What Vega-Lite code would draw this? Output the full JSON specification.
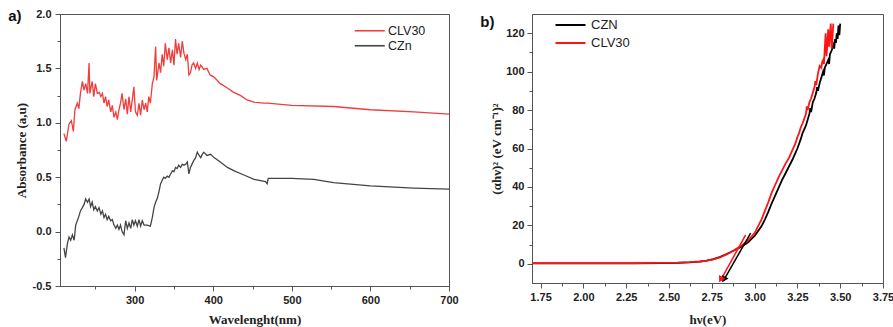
{
 "$schema": "https://vega.github.io/schema/vega-lite/v6.json",
 "padding": {"left": 7, "top": 7, "right": 4, "bottom": 0},
 "config": {
  "view": {"stroke": "#555", "strokeWidth": 1},
  "axis": {"domainColor": "#555", "tickColor": "#555", "grid": false, "labelFont": "Liberation Sans", "labelFontWeight": "bold", "labelFontSize": 11, "labelColor": "#222", "titleFont": "Liberation Serif", "titleFontWeight": "bold", "titleFontSize": 13, "titleColor": "#222", "labelFlush": false, "labelOverlap": false},
  "title": {"font": "Liberation Sans", "fontSize": 15, "fontWeight": "bold", "color": "#111"}
 },
 "datasets": {
  "uv": [
   {"s":"CLV30","wl":210,"A":0.90},{"s":"CLV30","wl":213,"A":0.83},{"s":"CLV30","wl":216.5,"A":0.99},{"s":"CLV30","wl":219.5,"A":1.02},{"s":"CLV30","wl":222,"A":0.92},{"s":"CLV30","wl":224,"A":1.12},{"s":"CLV30","wl":227,"A":1.18},{"s":"CLV30","wl":229,"A":1.13},{"s":"CLV30","wl":231,"A":1.27},{"s":"CLV30","wl":233.5,"A":1.38},{"s":"CLV30","wl":235.6,"A":1.30},{"s":"CLV30","wl":237.7,"A":1.36},{"s":"CLV30","wl":240,"A":1.27},{"s":"CLV30","wl":242,"A":1.55},{"s":"CLV30","wl":243,"A":1.27},{"s":"CLV30","wl":246,"A":1.38},{"s":"CLV30","wl":248,"A":1.24},{"s":"CLV30","wl":250,"A":1.36},{"s":"CLV30","wl":252.5,"A":1.27},{"s":"CLV30","wl":255,"A":1.28},{"s":"CLV30","wl":257,"A":1.24},{"s":"CLV30","wl":259,"A":1.27},{"s":"CLV30","wl":261,"A":1.18},{"s":"CLV30","wl":263,"A":1.24},{"s":"CLV30","wl":265,"A":1.15},{"s":"CLV30","wl":267,"A":1.21},{"s":"CLV30","wl":269.5,"A":1.10},{"s":"CLV30","wl":271.6,"A":1.16},{"s":"CLV30","wl":273.7,"A":1.05},{"s":"CLV30","wl":276,"A":1.10},{"s":"CLV30","wl":278,"A":1.03},{"s":"CLV30","wl":280,"A":1.12},{"s":"CLV30","wl":282,"A":1.18},{"s":"CLV30","wl":284,"A":1.27},{"s":"CLV30","wl":286.4,"A":1.12},{"s":"CLV30","wl":288.6,"A":1.22},{"s":"CLV30","wl":290.7,"A":1.08},{"s":"CLV30","wl":292.8,"A":1.24},{"s":"CLV30","wl":295,"A":1.10},{"s":"CLV30","wl":297,"A":1.21},{"s":"CLV30","wl":299,"A":1.33},{"s":"CLV30","wl":301,"A":1.10},{"s":"CLV30","wl":303.4,"A":1.07},{"s":"CLV30","wl":305.5,"A":1.18},{"s":"CLV30","wl":307.6,"A":1.07},{"s":"CLV30","wl":309.7,"A":1.21},{"s":"CLV30","wl":312,"A":1.12},{"s":"CLV30","wl":314,"A":1.18},{"s":"CLV30","wl":316,"A":1.10},{"s":"CLV30","wl":318,"A":1.24},{"s":"CLV30","wl":320,"A":1.18},{"s":"CLV30","wl":322.5,"A":1.36},{"s":"CLV30","wl":324.6,"A":1.42},{"s":"CLV30","wl":326.7,"A":1.70},{"s":"CLV30","wl":328,"A":1.39},{"s":"CLV30","wl":331,"A":1.55},{"s":"CLV30","wl":333,"A":1.46},{"s":"CLV30","wl":335,"A":1.63},{"s":"CLV30","wl":337,"A":1.52},{"s":"CLV30","wl":339,"A":1.73},{"s":"CLV30","wl":341.5,"A":1.58},{"s":"CLV30","wl":343.6,"A":1.69},{"s":"CLV30","wl":345.8,"A":1.55},{"s":"CLV30","wl":348,"A":1.67},{"s":"CLV30","wl":350,"A":1.53},{"s":"CLV30","wl":352,"A":1.77},{"s":"CLV30","wl":354,"A":1.63},{"s":"CLV30","wl":356,"A":1.73},{"s":"CLV30","wl":358.5,"A":1.60},{"s":"CLV30","wl":360.6,"A":1.75},{"s":"CLV30","wl":362.7,"A":1.64},{"s":"CLV30","wl":365,"A":1.58},{"s":"CLV30","wl":367,"A":1.63},{"s":"CLV30","wl":369,"A":1.44},{"s":"CLV30","wl":371,"A":1.46},{"s":"CLV30","wl":373,"A":1.53},{"s":"CLV30","wl":375,"A":1.55},{"s":"CLV30","wl":377.5,"A":1.50},{"s":"CLV30","wl":379.7,"A":1.55},{"s":"CLV30","wl":382,"A":1.49},{"s":"CLV30","wl":384,"A":1.53},{"s":"CLV30","wl":388,"A":1.49},{"s":"CLV30","wl":392,"A":1.50},{"s":"CLV30","wl":396,"A":1.44},{"s":"CLV30","wl":401,"A":1.42},{"s":"CLV30","wl":409,"A":1.36},{"s":"CLV30","wl":418,"A":1.32},{"s":"CLV30","wl":426,"A":1.28},{"s":"CLV30","wl":435,"A":1.25},{"s":"CLV30","wl":443,"A":1.21},{"s":"CLV30","wl":452,"A":1.19},{"s":"CLV30","wl":464,"A":1.18},{"s":"CLV30","wl":469,"A":1.18},{"s":"CLV30","wl":500,"A":1.16},{"s":"CLV30","wl":553,"A":1.15},{"s":"CLV30","wl":600,"A":1.12},{"s":"CLV30","wl":655,"A":1.10},{"s":"CLV30","wl":700,"A":1.08},
   {"s":"CZn","wl":210,"A":-0.15},{"s":"CZn","wl":212,"A":-0.24},{"s":"CZn","wl":214.4,"A":-0.11},{"s":"CZn","wl":216.5,"A":-0.05},{"s":"CZn","wl":218.6,"A":-0.08},{"s":"CZn","wl":220.8,"A":-0.03},{"s":"CZn","wl":223,"A":-0.08},{"s":"CZn","wl":225,"A":0.06},{"s":"CZn","wl":227,"A":0.10},{"s":"CZn","wl":229,"A":0.14},{"s":"CZn","wl":231,"A":0.19},{"s":"CZn","wl":233.5,"A":0.22},{"s":"CZn","wl":235.6,"A":0.25},{"s":"CZn","wl":237.7,"A":0.30},{"s":"CZn","wl":240,"A":0.27},{"s":"CZn","wl":242,"A":0.30},{"s":"CZn","wl":244,"A":0.23},{"s":"CZn","wl":246,"A":0.27},{"s":"CZn","wl":248,"A":0.20},{"s":"CZn","wl":250,"A":0.23},{"s":"CZn","wl":252.5,"A":0.19},{"s":"CZn","wl":254.7,"A":0.22},{"s":"CZn","wl":257,"A":0.16},{"s":"CZn","wl":259,"A":0.19},{"s":"CZn","wl":261,"A":0.13},{"s":"CZn","wl":263,"A":0.16},{"s":"CZn","wl":265,"A":0.11},{"s":"CZn","wl":267,"A":0.14},{"s":"CZn","wl":269.5,"A":0.10},{"s":"CZn","wl":271.6,"A":0.11},{"s":"CZn","wl":273.7,"A":0.06},{"s":"CZn","wl":276,"A":0.03},{"s":"CZn","wl":278,"A":0.06},{"s":"CZn","wl":280,"A":0.02},{"s":"CZn","wl":282,"A":0.06},{"s":"CZn","wl":284,"A":0.0},{"s":"CZn","wl":286.4,"A":-0.03},{"s":"CZn","wl":288.6,"A":0.10},{"s":"CZn","wl":290.7,"A":0.03},{"s":"CZn","wl":292.8,"A":0.08},{"s":"CZn","wl":295,"A":0.03},{"s":"CZn","wl":297,"A":0.11},{"s":"CZn","wl":299,"A":0.06},{"s":"CZn","wl":301,"A":0.10},{"s":"CZn","wl":303.4,"A":0.05},{"s":"CZn","wl":305.5,"A":0.11},{"s":"CZn","wl":307.6,"A":0.05},{"s":"CZn","wl":309.7,"A":0.10},{"s":"CZn","wl":312,"A":0.06},{"s":"CZn","wl":316,"A":0.06},{"s":"CZn","wl":320,"A":0.05},{"s":"CZn","wl":322.5,"A":0.13},{"s":"CZn","wl":324.6,"A":0.22},{"s":"CZn","wl":326.7,"A":0.27},{"s":"CZn","wl":329,"A":0.31},{"s":"CZn","wl":331,"A":0.37},{"s":"CZn","wl":333,"A":0.44},{"s":"CZn","wl":335,"A":0.47},{"s":"CZn","wl":337,"A":0.50},{"s":"CZn","wl":339,"A":0.49},{"s":"CZn","wl":341.5,"A":0.51},{"s":"CZn","wl":343.6,"A":0.50},{"s":"CZn","wl":345.8,"A":0.53},{"s":"CZn","wl":348,"A":0.56},{"s":"CZn","wl":350,"A":0.55},{"s":"CZn","wl":352,"A":0.59},{"s":"CZn","wl":354,"A":0.58},{"s":"CZn","wl":356,"A":0.61},{"s":"CZn","wl":358.5,"A":0.59},{"s":"CZn","wl":360.6,"A":0.62},{"s":"CZn","wl":362.7,"A":0.61},{"s":"CZn","wl":365,"A":0.62},{"s":"CZn","wl":367,"A":0.64},{"s":"CZn","wl":369,"A":0.53},{"s":"CZn","wl":371,"A":0.59},{"s":"CZn","wl":373,"A":0.62},{"s":"CZn","wl":375,"A":0.65},{"s":"CZn","wl":377.5,"A":0.68},{"s":"CZn","wl":379.7,"A":0.73},{"s":"CZn","wl":382,"A":0.70},{"s":"CZn","wl":384,"A":0.68},{"s":"CZn","wl":386,"A":0.71},{"s":"CZn","wl":388,"A":0.73},{"s":"CZn","wl":390.5,"A":0.71},{"s":"CZn","wl":392,"A":0.70},{"s":"CZn","wl":396.6,"A":0.71},{"s":"CZn","wl":401,"A":0.68},{"s":"CZn","wl":409,"A":0.64},{"s":"CZn","wl":418,"A":0.59},{"s":"CZn","wl":426,"A":0.56},{"s":"CZn","wl":439,"A":0.52},{"s":"CZn","wl":452,"A":0.48},{"s":"CZn","wl":466.5,"A":0.46},{"s":"CZn","wl":468.6,"A":0.44},{"s":"CZn","wl":470,"A":0.49},{"s":"CZn","wl":500,"A":0.49},{"s":"CZn","wl":528,"A":0.48},{"s":"CZn","wl":553,"A":0.45},{"s":"CZn","wl":600,"A":0.42},{"s":"CZn","wl":655,"A":0.40},{"s":"CZn","wl":700,"A":0.39}
  ],
  "tauc": [
   {"s":"CZN","hv":1.70,"v":0.2},{"s":"CZN","hv":1.9,"v":0.2},{"s":"CZN","hv":2.1,"v":0.2},{"s":"CZN","hv":2.3,"v":0.25},{"s":"CZN","hv":2.45,"v":0.35},{"s":"CZN","hv":2.55,"v":0.5},{"s":"CZN","hv":2.62,"v":0.75},{"s":"CZN","hv":2.68,"v":1.15},{"s":"CZN","hv":2.72,"v":1.6},{"s":"CZN","hv":2.76,"v":2.4},{"s":"CZN","hv":2.8,"v":3.6},{"s":"CZN","hv":2.84,"v":5.2},{"s":"CZN","hv":2.88,"v":6.9},{"s":"CZN","hv":2.92,"v":8.8},{"s":"CZN","hv":2.96,"v":11},{"s":"CZN","hv":3.0,"v":14.5},{"s":"CZN","hv":3.02,"v":17},{"s":"CZN","hv":3.04,"v":19.5},{"s":"CZN","hv":3.06,"v":23},{"s":"CZN","hv":3.08,"v":27},{"s":"CZN","hv":3.1,"v":31.5},{"s":"CZN","hv":3.12,"v":35.5},{"s":"CZN","hv":3.14,"v":39.5},{"s":"CZN","hv":3.16,"v":43.5},{"s":"CZN","hv":3.18,"v":47},{"s":"CZN","hv":3.2,"v":50.5},{"s":"CZN","hv":3.22,"v":54},{"s":"CZN","hv":3.24,"v":58},{"s":"CZN","hv":3.25,"v":60},{"s":"CZN","hv":3.26,"v":62.5},{"s":"CZN","hv":3.27,"v":65},{"s":"CZN","hv":3.28,"v":68},{"s":"CZN","hv":3.29,"v":70},{"s":"CZN","hv":3.3,"v":72},{"s":"CZN","hv":3.31,"v":75},{"s":"CZN","hv":3.32,"v":78},{"s":"CZN","hv":3.325,"v":81},{"s":"CZN","hv":3.33,"v":79},{"s":"CZN","hv":3.34,"v":84},{"s":"CZN","hv":3.35,"v":86},{"s":"CZN","hv":3.36,"v":89},{"s":"CZN","hv":3.365,"v":92},{"s":"CZN","hv":3.37,"v":90},{"s":"CZN","hv":3.38,"v":94},{"s":"CZN","hv":3.39,"v":97},{"s":"CZN","hv":3.40,"v":100},{"s":"CZN","hv":3.405,"v":98},{"s":"CZN","hv":3.41,"v":102},{"s":"CZN","hv":3.42,"v":104},{"s":"CZN","hv":3.43,"v":106},{"s":"CZN","hv":3.435,"v":104},{"s":"CZN","hv":3.44,"v":109},{"s":"CZN","hv":3.45,"v":111},{"s":"CZN","hv":3.46,"v":114},{"s":"CZN","hv":3.465,"v":112},{"s":"CZN","hv":3.47,"v":117},{"s":"CZN","hv":3.475,"v":115},{"s":"CZN","hv":3.48,"v":120},{"s":"CZN","hv":3.485,"v":117},{"s":"CZN","hv":3.49,"v":124},{"s":"CZN","hv":3.495,"v":119},{"s":"CZN","hv":3.5,"v":125},
   {"s":"CLV30","hv":1.70,"v":0.3},{"s":"CLV30","hv":1.9,"v":0.3},{"s":"CLV30","hv":2.1,"v":0.3},{"s":"CLV30","hv":2.3,"v":0.35},{"s":"CLV30","hv":2.45,"v":0.45},{"s":"CLV30","hv":2.55,"v":0.6},{"s":"CLV30","hv":2.62,"v":0.85},{"s":"CLV30","hv":2.68,"v":1.2},{"s":"CLV30","hv":2.72,"v":1.6},{"s":"CLV30","hv":2.76,"v":2.3},{"s":"CLV30","hv":2.8,"v":3.4},{"s":"CLV30","hv":2.84,"v":5.0},{"s":"CLV30","hv":2.88,"v":7.0},{"s":"CLV30","hv":2.92,"v":9.2},{"s":"CLV30","hv":2.96,"v":12},{"s":"CLV30","hv":3.0,"v":16},{"s":"CLV30","hv":3.02,"v":19.5},{"s":"CLV30","hv":3.04,"v":23},{"s":"CLV30","hv":3.06,"v":27.5},{"s":"CLV30","hv":3.08,"v":32},{"s":"CLV30","hv":3.1,"v":37},{"s":"CLV30","hv":3.12,"v":41},{"s":"CLV30","hv":3.14,"v":45},{"s":"CLV30","hv":3.16,"v":48.5},{"s":"CLV30","hv":3.18,"v":52},{"s":"CLV30","hv":3.2,"v":55},{"s":"CLV30","hv":3.215,"v":58},{"s":"CLV30","hv":3.23,"v":61},{"s":"CLV30","hv":3.24,"v":63},{"s":"CLV30","hv":3.25,"v":66},{"s":"CLV30","hv":3.26,"v":68},{"s":"CLV30","hv":3.27,"v":71},{"s":"CLV30","hv":3.28,"v":73},{"s":"CLV30","hv":3.29,"v":75.5},{"s":"CLV30","hv":3.3,"v":78},{"s":"CLV30","hv":3.305,"v":82},{"s":"CLV30","hv":3.31,"v":80},{"s":"CLV30","hv":3.32,"v":84},{"s":"CLV30","hv":3.33,"v":86},{"s":"CLV30","hv":3.34,"v":89},{"s":"CLV30","hv":3.35,"v":92},{"s":"CLV30","hv":3.355,"v":95},{"s":"CLV30","hv":3.36,"v":93},{"s":"CLV30","hv":3.37,"v":99},{"s":"CLV30","hv":3.375,"v":101},{"s":"CLV30","hv":3.38,"v":103},{"s":"CLV30","hv":3.39,"v":102},{"s":"CLV30","hv":3.395,"v":105},{"s":"CLV30","hv":3.40,"v":106},{"s":"CLV30","hv":3.405,"v":104},{"s":"CLV30","hv":3.41,"v":112},{"s":"CLV30","hv":3.415,"v":120},{"s":"CLV30","hv":3.42,"v":108},{"s":"CLV30","hv":3.425,"v":114},{"s":"CLV30","hv":3.43,"v":122},{"s":"CLV30","hv":3.435,"v":113},{"s":"CLV30","hv":3.44,"v":119},{"s":"CLV30","hv":3.445,"v":125},{"s":"CLV30","hv":3.45,"v":112},{"s":"CLV30","hv":3.455,"v":118},{"s":"CLV30","hv":3.46,"v":125}
  ],
  "tangent": [
   {"s":"CZN","hv":2.977,"v":16},{"s":"CZN","hv":2.82,"v":-8.5},
   {"s":"CLV30","hv":2.948,"v":15},{"s":"CLV30","hv":2.802,"v":-8.5}
  ],
  "arrow": [
   {"s":"CZN","hv":2.82,"v":-8.2},{"s":"CLV30","hv":2.802,"v":-8.2}
  ]
 },
 "spacing": 20,
 "align": "none",
 "resolve": {"scale": {"color": "independent"}, "legend": {"color": "independent"}},
 "hconcat": [
  {
   "title": {"text": "a)", "orient": "left", "anchor": "end", "frame": "group", "angle": 0, "align": "left", "baseline": "alphabetic", "offset": -6.5, "dy": 7},
   "width": 389,
   "height": 272,
   "data": {"name": "uv"},
   "mark": {"type": "line", "strokeWidth": 1.3, "clip": true},
   "encoding": {
    "x": {"field": "wl", "type": "quantitative",
     "scale": {"domain": [205, 700], "nice": false, "zero": false},
     "axis": {"title": "Wavelenght(nm)", "values": [250,300,350,400,450,500,550,600,650,700],
      "labelExpr": "datum.value % 100 == 0 ? datum.label : ''",
      "tickSize": {"condition": {"test": "datum.value % 100 == 0", "value": 5}, "value": 3},
      "labelPadding": 3, "titleY": 33, "titleBaseline": "middle"}},
    "y": {"field": "A", "type": "quantitative",
     "scale": {"domain": [-0.5, 2.0], "nice": false, "zero": false},
     "axis": {"title": "Absorbance (a,u)", "values": [-0.5,-0.25,0,0.25,0.5,0.75,1.0,1.25,1.5,1.75,2.0],
      "labelExpr": "abs(datum.value*2 - round(datum.value*2)) < 0.000001 ? replace(format(datum.value, '.1f'), '−', '-') : ''",
      "tickSize": {"condition": {"test": "abs(datum.value*2 - round(datum.value*2)) < 0.000001", "value": 5}, "value": 3},
      "labelPadding": 4, "titleX": -39, "titleBaseline": "middle"}},
    "color": {"field": "s", "type": "nominal",
     "scale": {"domain": ["CLV30", "CZn"], "range": ["#f03c3c", "#454545"]},
     "legend": {"orient": "none", "legendX": 303.5, "legendY": 10.5, "title": null,
      "symbolType": "M-3,0H3", "symbolSize": 100, "symbolStrokeWidth": 1.6,
      "labelFont": "Liberation Sans", "labelFontSize": 12.5, "labelColor": "#222",
      "labelOffset": 12, "rowPadding": 2, "padding": 0}}
   }
  },
  {
   "title": {"text": "b)", "orient": "left", "anchor": "end", "frame": "group", "angle": 0, "align": "left", "baseline": "alphabetic", "offset": -4.5, "dy": 13},
   "width": 351,
   "height": 269,
   "encoding": {
    "x": {"field": "hv", "type": "quantitative",
     "scale": {"domain": [1.7, 3.75], "nice": false, "zero": false},
     "axis": {"title": "hν(eV)", "values": [1.75,1.875,2.0,2.125,2.25,2.375,2.5,2.625,2.75,2.875,3.0,3.125,3.25,3.375,3.5,3.625,3.75],
      "labelExpr": "abs(datum.value*4 - round(datum.value*4)) < 0.000001 ? format(datum.value, '.2f') : ''",
      "tickSize": {"condition": {"test": "abs(datum.value*4 - round(datum.value*4)) < 0.000001", "value": 5}, "value": 3},
      "labelPadding": 3, "titleY": 36, "titleBaseline": "middle"}},
    "y": {"field": "v", "type": "quantitative",
     "scale": {"domain": [-10, 130], "nice": false, "zero": false},
     "axis": {"title": "(αhν)² (eV cm⁻¹)²", "values": [0,10,20,30,40,50,60,70,80,90,100,110,120],
      "labelExpr": "datum.value % 20 == 0 ? datum.label : ''",
      "tickSize": {"condition": {"test": "datum.value % 20 == 0", "value": 5}, "value": 3},
      "labelPadding": 3, "titleX": -36, "titleBaseline": "middle"}}
   },
   "layer": [
    {
     "data": {"name": "tauc"},
     "mark": {"type": "line", "strokeWidth": 1.8, "clip": true},
     "encoding": {
      "color": {"field": "s", "type": "nominal",
       "scale": {"domain": ["CZN", "CLV30"], "range": ["#000000", "#ff1414"]},
       "legend": {"orient": "none", "legendX": 32, "legendY": 4.5, "title": null,
        "symbolType": "M-3,0H3", "symbolSize": 100, "symbolStrokeWidth": 2,
        "labelFont": "Liberation Sans", "labelFontSize": 13, "labelColor": "#222",
        "labelOffset": 14, "rowPadding": 4, "padding": 0}}
     }
    },
    {
     "data": {"name": "tangent"},
     "mark": {"type": "line", "strokeWidth": 1.5, "clip": true},
     "encoding": {
      "color": {"field": "s", "type": "nominal", "legend": null}
     }
    },
    {
     "data": {"name": "arrow"},
     "mark": {"type": "point", "shape": "triangle-up", "filled": true, "size": 55, "opacity": 1, "angle": 209},
     "encoding": {
      "color": {"field": "s", "type": "nominal", "legend": null}
     }
    }
   ]
  }
 ]
}
